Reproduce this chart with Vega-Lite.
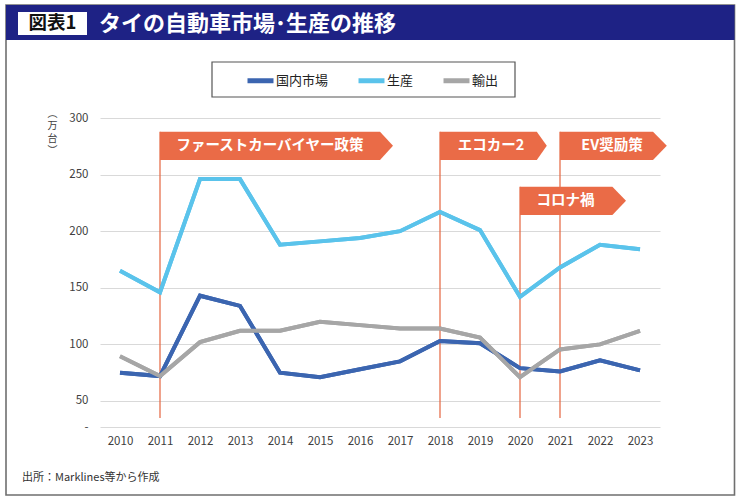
{
  "$schema": "https://vega.github.io/schema/vega-lite/v6.json",
  "width": 560,
  "height": 309,
  "autosize": {"type": "none"},
  "padding": {"left": 100, "top": 118, "right": 80, "bottom": 76},
  "background": "white",
  "config": {"font": "Noto Sans CJK JP", "view": {"stroke": null}},
  "resolve": {"axis": {"x": "independent", "y": "independent"}},
  "datasets": {
    "series": [
      {"year": 2010, "series": "国内市場", "value": 75},
      {"year": 2011, "series": "国内市場", "value": 72},
      {"year": 2012, "series": "国内市場", "value": 143},
      {"year": 2013, "series": "国内市場", "value": 134},
      {"year": 2014, "series": "国内市場", "value": 75},
      {"year": 2015, "series": "国内市場", "value": 71},
      {"year": 2016, "series": "国内市場", "value": 78},
      {"year": 2017, "series": "国内市場", "value": 85},
      {"year": 2018, "series": "国内市場", "value": 103},
      {"year": 2019, "series": "国内市場", "value": 101},
      {"year": 2020, "series": "国内市場", "value": 79},
      {"year": 2021, "series": "国内市場", "value": 76},
      {"year": 2022, "series": "国内市場", "value": 86},
      {"year": 2023, "series": "国内市場", "value": 77},
      {"year": 2010, "series": "生産", "value": 165},
      {"year": 2011, "series": "生産", "value": 146},
      {"year": 2012, "series": "生産", "value": 246},
      {"year": 2013, "series": "生産", "value": 246},
      {"year": 2014, "series": "生産", "value": 188},
      {"year": 2015, "series": "生産", "value": 191},
      {"year": 2016, "series": "生産", "value": 194},
      {"year": 2017, "series": "生産", "value": 200},
      {"year": 2018, "series": "生産", "value": 217},
      {"year": 2019, "series": "生産", "value": 201},
      {"year": 2020, "series": "生産", "value": 142},
      {"year": 2021, "series": "生産", "value": 168},
      {"year": 2022, "series": "生産", "value": 188},
      {"year": 2023, "series": "生産", "value": 184},
      {"year": 2010, "series": "輸出", "value": 89.5},
      {"year": 2011, "series": "輸出", "value": 72},
      {"year": 2012, "series": "輸出", "value": 102},
      {"year": 2013, "series": "輸出", "value": 112},
      {"year": 2014, "series": "輸出", "value": 112},
      {"year": 2015, "series": "輸出", "value": 120},
      {"year": 2016, "series": "輸出", "value": 117},
      {"year": 2017, "series": "輸出", "value": 114},
      {"year": 2018, "series": "輸出", "value": 114},
      {"year": 2019, "series": "輸出", "value": 106},
      {"year": 2020, "series": "輸出", "value": 71},
      {"year": 2021, "series": "輸出", "value": 95.5},
      {"year": 2022, "series": "輸出", "value": 100},
      {"year": 2023, "series": "輸出", "value": 112}
    ],
    "events": [
      {"label": "ファーストカーバイヤー政策", "year": 2011, "top": 287.9, "mid": 275.4, "tx": 2013.75},
      {"label": "エコカー2", "year": 2018, "top": 287.9, "mid": 275.4, "tx": 2019.275},
      {"label": "コロナ禍", "year": 2020, "top": 239.3, "mid": 226.8, "tx": 2021.14},
      {"label": "EV奨励策", "year": 2021, "top": 287.9, "mid": 275.4, "tx": 2022.3}
    ],
    "flags": [
      {"label": "ファーストカーバイヤー政策", "x": 2011, "y": 287.9, "y2": 262.9},
      {"label": "ファーストカーバイヤー政策", "x": 2016.5, "y": 287.9, "y2": 262.9},
      {"label": "ファーストカーバイヤー政策", "x": 2016.825, "y": 275.4, "y2": 275.4},
      {"label": "エコカー2", "x": 2018, "y": 287.9, "y2": 262.9},
      {"label": "エコカー2", "x": 2020.42, "y": 287.9, "y2": 262.9},
      {"label": "エコカー2", "x": 2020.67, "y": 275.4, "y2": 275.4},
      {"label": "EV奨励策", "x": 2021, "y": 287.9, "y2": 262.9},
      {"label": "EV奨励策", "x": 2023.325, "y": 287.9, "y2": 262.9},
      {"label": "EV奨励策", "x": 2023.67, "y": 275.4, "y2": 275.4},
      {"label": "コロナ禍", "x": 2020, "y": 239.3, "y2": 214.3},
      {"label": "コロナ禍", "x": 2022.31, "y": 239.3, "y2": 214.3},
      {"label": "コロナ禍", "x": 2022.65, "y": 226.8, "y2": 226.8}
    ]
  },
  "layer": [
    {
      "data": {"values": [{"x1": 2007.15, "x2": 2025.3625, "y1": -33.07, "y2": 399.83}]},
      "mark": {"type": "rect", "fill": null, "fillOpacity": 0, "stroke": "#6f6f6f", "strokeWidth": 1.6},
      "encoding": {
        "x": {"field": "x1", "type": "quantitative", "scale": {"domain": [2009.5, 2023.5], "nice": false, "zero": false}, "axis": null},
        "x2": {"field": "x2"},
        "y": {"field": "y1", "type": "quantitative", "scale": {"domain": [27, 300], "nice": false, "zero": false}, "axis": null},
        "y2": {"field": "y2"}
      }
    },
    {
      "data": {"values": [{"x1": 2007.15, "x2": 2025.3625, "y1": 368.91, "y2": 399.83}]},
      "mark": {"type": "rect", "fill": "#1e2285"},
      "encoding": {
        "x": {"field": "x1", "type": "quantitative", "scale": {"domain": [2009.5, 2023.5], "nice": false, "zero": false}, "axis": null},
        "x2": {"field": "x2"},
        "y": {"field": "y1", "type": "quantitative", "scale": {"domain": [27, 300], "nice": false, "zero": false}, "axis": null},
        "y2": {"field": "y2"}
      }
    },
    {
      "data": {"values": [{"x1": 2007.45, "x2": 2009.175, "y1": 373.33, "y2": 393.65}]},
      "mark": {"type": "rect", "fill": "white"},
      "encoding": {
        "x": {"field": "x1", "type": "quantitative", "scale": {"domain": [2009.5, 2023.5], "nice": false, "zero": false}, "axis": null},
        "x2": {"field": "x2"},
        "y": {"field": "y1", "type": "quantitative", "scale": {"domain": [27, 300], "nice": false, "zero": false}, "axis": null},
        "y2": {"field": "y2"}
      }
    },
    {
      "data": {"values": [{"x1": 2012.3, "x2": 2019.875, "y1": 318.55, "y2": 349.47}]},
      "mark": {"type": "rect", "fill": "white", "stroke": "#555555", "strokeWidth": 1.2},
      "encoding": {
        "x": {"field": "x1", "type": "quantitative", "scale": {"domain": [2009.5, 2023.5], "nice": false, "zero": false}, "axis": null},
        "x2": {"field": "x2"},
        "y": {"field": "y1", "type": "quantitative", "scale": {"domain": [27, 300], "nice": false, "zero": false}, "axis": null},
        "y2": {"field": "y2"}
      }
    },
    {
      "data": {"name": "series"},
      "mark": {"type": "line", "strokeWidth": 4},
      "encoding": {
        "x": {
          "field": "year", "type": "quantitative",
          "scale": {"domain": [2009.5, 2023.5], "nice": false, "zero": false},
          "axis": {"values": [2010, 2011, 2012, 2013, 2014, 2015, 2016, 2017, 2018, 2019, 2020, 2021, 2022, 2023], "format": "d", "grid": false, "domain": false, "ticks": false, "labelPadding": 8, "labelFontSize": 11.5, "labelColor": "#404040", "title": null}
        },
        "y": {
          "field": "value", "type": "quantitative",
          "scale": {"domain": [27, 300], "nice": false, "zero": false},
          "axis": {"values": [27, 50, 100, 150, 200, 250, 300], "labelExpr": "datum.value < 30 ? '-' : datum.label", "grid": true, "gridColor": "#d9d9d9", "gridWidth": 1, "domain": false, "ticks": false, "labelPadding": 12, "labelFontSize": 11.5, "labelColor": "#404040", "title": ["︵", "万", "台", "︶"], "titleAngle": 0, "titleX": -48, "titleY": -10, "titleAlign": "center", "titleBaseline": "top", "titleFontSize": 10, "titleFontWeight": "normal", "titleLineHeight": 12.5, "titleColor": "#404040"}
        },
        "color": {
          "field": "series", "type": "nominal",
          "scale": {"domain": ["国内市場", "生産", "輸出"], "range": ["#3b65b0", "#5ac3eb", "#a6a6a6"]},
          "legend": {"orient": "none", "legendX": 145, "legendY": -53, "direction": "horizontal", "title": null, "symbolType": "stroke", "symbolStrokeWidth": 5, "symbolSize": 676, "labelFontSize": 13, "labelColor": "#222222", "labelOffset": 0, "columnPadding": 19, "padding": 0}
        }
      }
    },
    {
      "data": {"name": "events"},
      "mark": {"type": "rule", "color": "#e5643e", "strokeWidth": 1.2},
      "encoding": {
        "x": {"field": "year", "type": "quantitative", "scale": {"domain": [2009.5, 2023.5], "nice": false, "zero": false}, "axis": null},
        "y": {"field": "top", "type": "quantitative", "scale": {"domain": [27, 300], "nice": false, "zero": false}, "axis": null},
        "y2": {"datum": 35}
      }
    },
    {
      "data": {"name": "series"},
      "mark": {"type": "line", "strokeWidth": 4},
      "encoding": {
        "x": {"field": "year", "type": "quantitative", "scale": {"domain": [2009.5, 2023.5], "nice": false, "zero": false}, "axis": null},
        "y": {"field": "value", "type": "quantitative", "scale": {"domain": [27, 300], "nice": false, "zero": false}, "axis": null},
        "color": {"field": "series", "type": "nominal", "scale": {"domain": ["国内市場", "生産", "輸出"], "range": ["#3b65b0", "#5ac3eb", "#a6a6a6"]}, "legend": null}
      }
    },
    {
      "data": {"name": "flags"},
      "mark": {"type": "area", "orient": "vertical", "color": "#ea6b47", "opacity": 1},
      "encoding": {
        "x": {"field": "x", "type": "quantitative", "scale": {"domain": [2009.5, 2023.5], "nice": false, "zero": false}, "axis": null},
        "y": {"field": "y", "type": "quantitative", "stack": null, "scale": {"domain": [27, 300], "nice": false, "zero": false}, "axis": null},
        "y2": {"field": "y2"},
        "detail": {"field": "label", "type": "nominal"}
      }
    },
    {
      "data": {"name": "events"},
      "mark": {"type": "text", "color": "white", "fontSize": 14.5, "fontWeight": "bold", "align": "center", "baseline": "middle"},
      "encoding": {
        "x": {"field": "tx", "type": "quantitative", "scale": {"domain": [2009.5, 2023.5], "nice": false, "zero": false}, "axis": null},
        "y": {"field": "mid", "type": "quantitative", "scale": {"domain": [27, 300], "nice": false, "zero": false}, "axis": null},
        "text": {"field": "label"}
      }
    },
    {
      "data": {"values": [{"x": 2008.3125, "y": 383.5, "t": "図表1"}]},
      "mark": {"type": "text", "color": "#111111", "fontSize": 18.5, "fontWeight": "bold", "align": "center", "baseline": "middle"},
      "encoding": {
        "x": {"field": "x", "type": "quantitative", "scale": {"domain": [2009.5, 2023.5], "nice": false, "zero": false}, "axis": null},
        "y": {"field": "y", "type": "quantitative", "scale": {"domain": [27, 300], "nice": false, "zero": false}, "axis": null},
        "text": {"field": "t"}
      }
    },
    {
      "data": {"values": [{"x": 2009.475, "y": 383.3, "t": "タイの自動車市場･生産の推移"}]},
      "mark": {"type": "text", "color": "white", "fontSize": 22, "fontWeight": "bold", "align": "left", "baseline": "middle"},
      "encoding": {
        "x": {"field": "x", "type": "quantitative", "scale": {"domain": [2009.5, 2023.5], "nice": false, "zero": false}, "axis": null},
        "y": {"field": "y", "type": "quantitative", "scale": {"domain": [27, 300], "nice": false, "zero": false}, "axis": null},
        "text": {"field": "t"}
      }
    },
    {
      "data": {"values": [{"x": 2007.55, "y": -18.05, "t": "出所：Marklines等から作成"}]},
      "mark": {"type": "text", "color": "#333333", "fontSize": 11, "align": "left", "baseline": "middle"},
      "encoding": {
        "x": {"field": "x", "type": "quantitative", "scale": {"domain": [2009.5, 2023.5], "nice": false, "zero": false}, "axis": null},
        "y": {"field": "y", "type": "quantitative", "scale": {"domain": [27, 300], "nice": false, "zero": false}, "axis": null},
        "text": {"field": "t"}
      }
    }
  ]
}
